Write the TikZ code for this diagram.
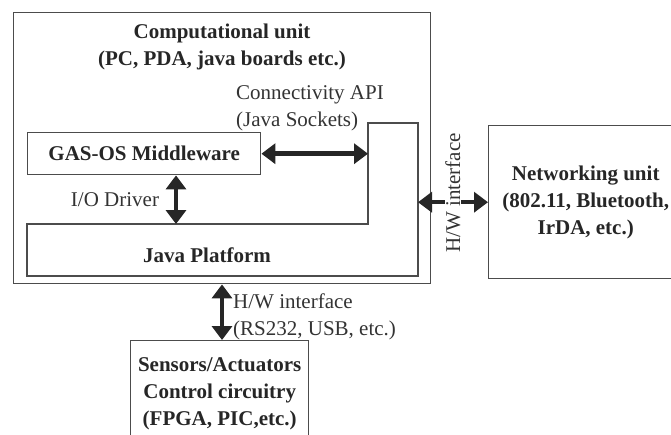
\documentclass[tikz,border=0pt]{standalone}
\usepackage{fontspec}
\setmainfont{Liberation Serif}
\usetikzlibrary{arrows.meta,positioning}

\begin{document}
\begin{tikzpicture}[x=1pt,y=-1pt,
	boxline/.style={draw=black!70,line width=1.4pt},
	unitbox/.style={boxline,inner sep=0pt,align=center,text=black!85,font=\fontsize{21}{27}\selectfont\bfseries},
	plaintext/.style={inner sep=0pt,align=left,text=black!80,font=\fontsize{21}{27}\selectfont},
	dblarrow/.style={line width=4.5pt,draw=black!85,{Triangle[length=14pt,width=20pt]}-{Triangle[length=14pt,width=20pt]}}]
	\useasboundingbox (0,0) rectangle (671,434);
	\clip (0,0) rectangle (671,434);
	% computational unit
	\node[unitbox,minimum width=417pt,minimum height=271pt,anchor=north west] (comp) at (13,12) {};
	\node[unitbox,draw=none] (title) at (222,47) {Computational unit\\(PC, PDA, java boards etc.)};
	\node[unitbox,minimum width=233pt,minimum height=42pt,anchor=north west] (gasos) at (27,132) {GAS-OS Middleware};
	% java platform (L shape)
	\coordinate (jpv) at (368,123);
	\coordinate (jpr) at (418,276);
	\coordinate (jtop) at (176,224);
	\draw[boxline] (27,224) -- (jtop) -- (jpv |- jtop) -- (jpv) -- (jpr |- jpv) -- (jpr) -- (27,276) -- cycle;
	\node[unitbox,draw=none] (java) at (207,255) {Java Platform};
	\node[plaintext,anchor=west] (conn) at (236,108) {Connectivity API\\(Java Sockets)};
	\node[plaintext] (iodrv) at (115,200) {I/O Driver};
	% other units
	\node[unitbox,minimum width=194pt,minimum height=153pt,anchor=north west] (net) at (488,125) {Networking unit\\(802.11, Bluetooth,\\IrDA, etc.)};
	\node[unitbox,minimum width=178pt,minimum height=106pt,anchor=north west] (sens) at (130,340) {Sensors/Actuators\\Control circuitry\\(FPGA, PIC,etc.)};
	% connections
	\draw[dblarrow] (gasos.east) -- (gasos.east -| jpv);
	\draw[dblarrow] (jtop |- gasos.south) -- (jtop);
	\draw[dblarrow] (net.west -| jpr) -- (net.west);
	\node[plaintext,fill=white,rotate=90] (hwnet) at (453,193) {H/W interface};
	\draw[dblarrow] (sens.north -| 222,0) -- (222,0 |- comp.south);
	\node[plaintext,anchor=west] (hwsens) at (233,317) {H/W interface\\(RS232, USB, etc.)};
\end{tikzpicture}
\end{document}
